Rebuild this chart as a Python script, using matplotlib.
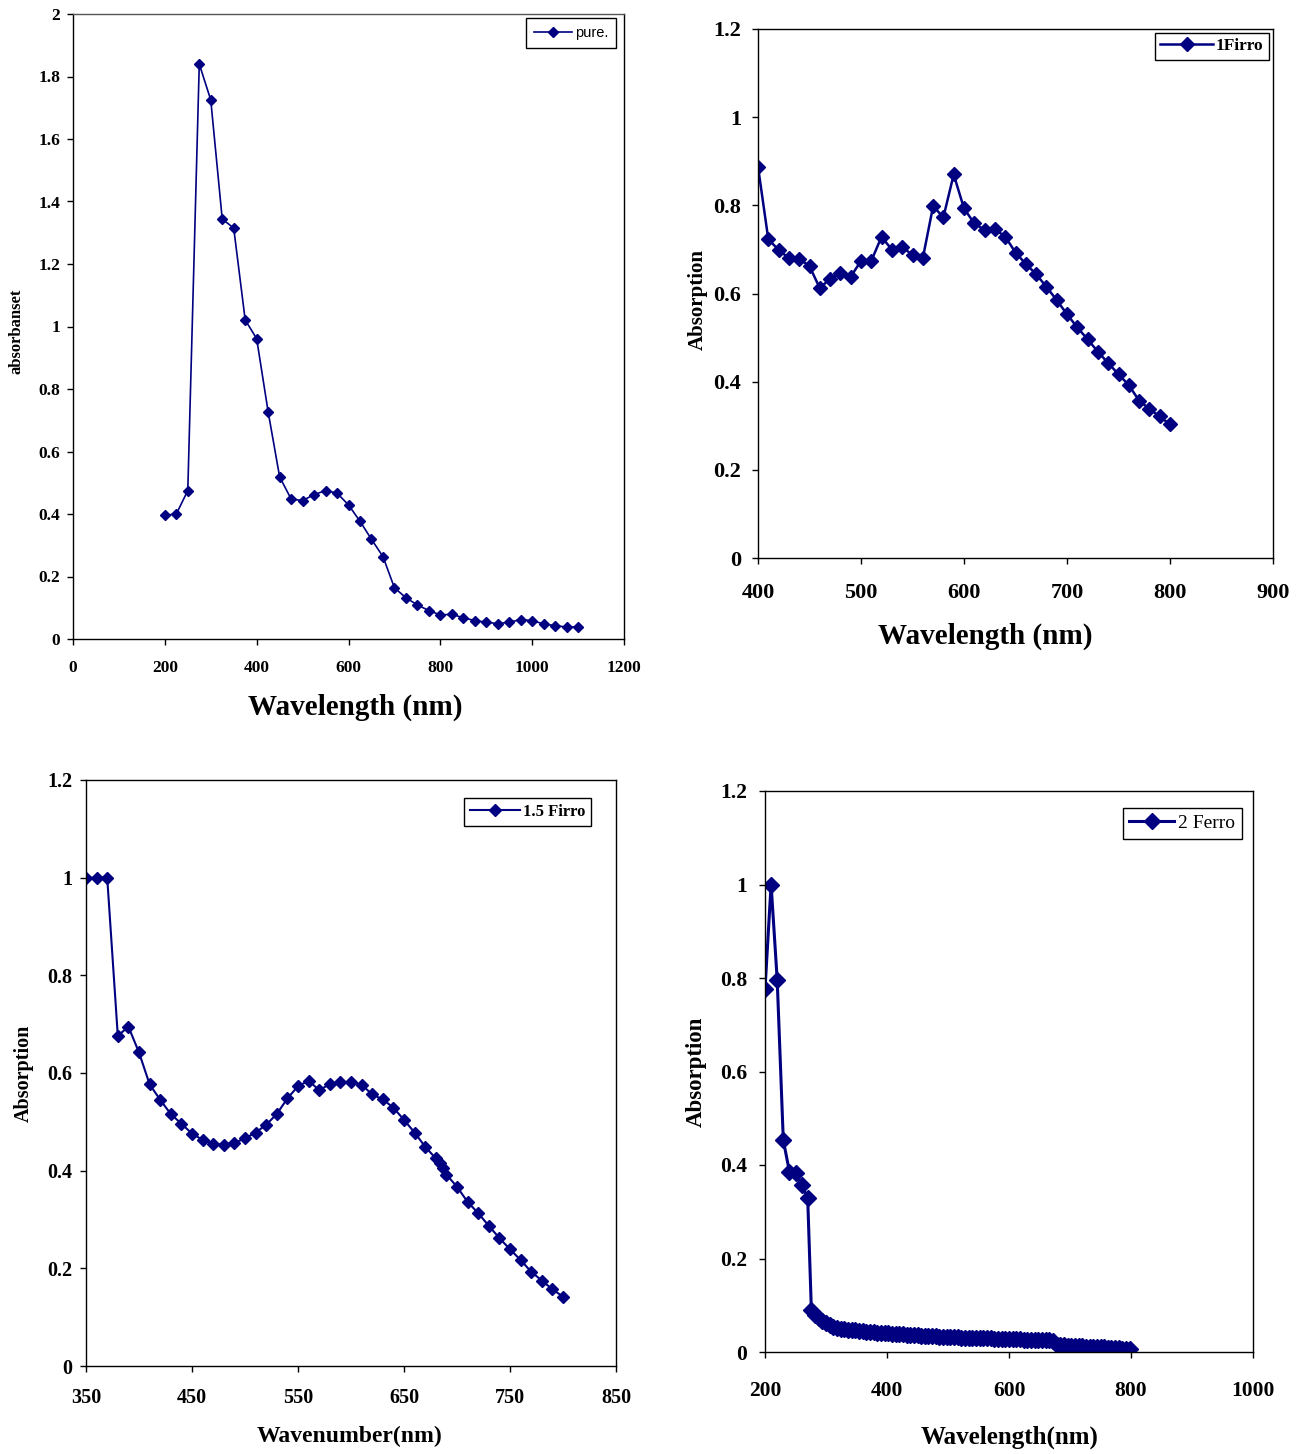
import numpy as np
import matplotlib
matplotlib.use("Agg")
import matplotlib.pyplot as plt
from matplotlib.ticker import FuncFormatter

plt.rcParams["font.family"] = "Liberation Serif"

NAVY = "#000080"

# panel 1 - pure
pure_x = [200, 225, 250, 275, 300, 325, 350, 375, 400, 425, 450, 475, 500, 525,
          550, 575, 600, 625, 650, 675, 700, 725, 750, 775, 800, 825, 850, 875,
          900, 925, 950, 975, 1000, 1025, 1050, 1075, 1100]
pure_y = [0.396, 0.40, 0.475, 1.84, 1.725, 1.344, 1.315, 1.021, 0.961, 0.727,
          0.519, 0.448, 0.443, 0.462, 0.475, 0.467, 0.429, 0.377, 0.319, 0.264,
          0.164, 0.132, 0.109, 0.091, 0.077, 0.079, 0.068, 0.059, 0.054, 0.049,
          0.054, 0.062, 0.059, 0.048, 0.043, 0.038, 0.039]

# panel 2 - 1Firro
f1_x = [390, 400, 410, 420, 430, 440, 450, 460, 470, 480, 490, 500, 510, 520,
        530, 540, 550, 560, 570, 580, 590, 600, 610, 620, 630, 640, 650, 660,
        670, 680, 690, 700, 710, 720, 730, 740, 750, 760, 770, 780, 790, 800]
f1_y = [0.96, 0.888, 0.723, 0.699, 0.680, 0.679, 0.662, 0.612, 0.634, 0.647,
        0.638, 0.674, 0.674, 0.729, 0.699, 0.706, 0.687, 0.680, 0.798, 0.773,
        0.870, 0.793, 0.759, 0.744, 0.746, 0.729, 0.693, 0.667, 0.644, 0.615,
        0.585, 0.553, 0.523, 0.496, 0.468, 0.442, 0.417, 0.392, 0.357, 0.338,
        0.321, 0.303]

# panel 3 - 1.5 Firro
f15_x = [350, 360, 370, 380, 390, 400, 410, 420, 430, 440, 450, 460, 470, 480,
         490, 500, 510, 520, 530, 540, 550, 560, 570, 580, 590, 600, 610, 620,
         630, 640, 650, 660, 670, 680, 684, 687, 690, 700, 710, 720, 730, 740,
         750, 760, 770, 780, 790, 800]
f15_y = [1.0, 1.0, 1.0, 0.676, 0.695, 0.642, 0.577, 0.545, 0.516, 0.496, 0.476,
         0.463, 0.455, 0.453, 0.457, 0.466, 0.478, 0.494, 0.516, 0.548, 0.573,
         0.584, 0.565, 0.577, 0.581, 0.582, 0.576, 0.556, 0.546, 0.529, 0.504,
         0.478, 0.449, 0.425, 0.415, 0.405, 0.392, 0.367, 0.336, 0.313, 0.287,
         0.262, 0.239, 0.217, 0.193, 0.175, 0.157, 0.142]

# panel 4 - 2 Ferro
f2_head_x = [200, 210, 220, 230, 240, 250, 260, 270]
f2_head_y = [0.776, 1.0, 0.796, 0.453, 0.386, 0.383, 0.357, 0.329]
f2_tail_x = list(range(276, 800, 6))
f2_tail_y = [0.090, 0.080, 0.072, 0.066, 0.061, 0.057, 0.054, 0.052, 0.050,
             0.049, 0.048, 0.047, 0.046, 0.045, 0.044, 0.043, 0.043, 0.042,
             0.041, 0.041, 0.040, 0.040, 0.039, 0.039, 0.038, 0.038, 0.037,
             0.037, 0.036, 0.036, 0.035, 0.035, 0.034, 0.034, 0.034, 0.033,
             0.033, 0.033, 0.032, 0.032, 0.032, 0.031, 0.031, 0.031, 0.030,
             0.030, 0.030, 0.029, 0.029, 0.029, 0.028, 0.028, 0.028, 0.028,
             0.027, 0.027, 0.027, 0.027, 0.026, 0.026, 0.026, 0.026, 0.025,
             0.025, 0.025, 0.025, 0.024,
             0.015, 0.014, 0.014, 0.013, 0.013, 0.012, 0.012, 0.012, 0.011,
             0.011, 0.011, 0.010, 0.010, 0.010, 0.009, 0.009, 0.008, 0.008,
             0.007, 0.007, 0.006]
f2_x = f2_head_x + f2_tail_x
f2_y = f2_head_y + f2_tail_y

W, H = 1308, 1454
fig = plt.figure(figsize=(W / 100, H / 100), dpi=100)


def box(l, r, t, b):
    return [l / W, (H - b) / H, (r - l) / W, (b - t) / H]


def style(ax, fs, xpad, ypad):
    for s in ax.spines.values():
        s.set_color("black")
        s.set_linewidth(1.0)
    ax.tick_params(direction="out", length=4, width=1, labelsize=fs)
    ax.tick_params(axis="x", pad=xpad)
    ax.tick_params(axis="y", pad=ypad)
    for lab in ax.get_xticklabels() + ax.get_yticklabels():
        lab.set_fontweight("bold")
    ax.yaxis.set_major_formatter(FuncFormatter(lambda v, p: f"{v:g}"))


def legend(ax, anchor, hl, bp, prop):
    ax.legend(loc="upper right", bbox_to_anchor=anchor, borderaxespad=0,
              fancybox=False, edgecolor="black", framealpha=1, handlelength=hl,
              handletextpad=0.2, borderpad=bp, prop=prop)


# ---- panel 1
ax1 = fig.add_axes(box(73, 624, 14, 639))
ax1.plot(pure_x, pure_y, color=NAVY, lw=1.2, marker="D", ms=5.5, label="pure.")
ax1.set_xlim(0, 1200)
ax1.set_ylim(0, 2)
ax1.set_xticks(np.arange(0, 1201, 200))
ax1.set_yticks(np.arange(0, 2.01, 0.2))
style(ax1, 12.5, 11, 5)
ax1.spines["top"].set_color("#555555")
ax1.set_xlabel("Wavelength (nm)", fontsize=21, fontweight="bold")
ax1.set_ylabel("absorbanset", fontsize=12, fontweight="bold")
ax1.xaxis.set_label_coords(0.512, -0.11)
ax1.xaxis.label.set_va("center")
ax1.yaxis.set_label_coords(-0.103, 0.493)
ax1.yaxis.label.set_va("center")
legend(ax1, (0.9855, 0.9936), 2.6, 0.55,
       {"family": "Liberation Sans", "size": 10.5})

# ---- panel 2
ax2 = fig.add_axes(box(758, 1273, 29, 558))
ax2.plot(f1_x, f1_y, color=NAVY, lw=1.8, marker="D", ms=7, label="1Firro")
ax2.set_xlim(400, 900)
ax2.set_ylim(0, 1.2)
ax2.set_xticks(np.arange(400, 901, 100))
ax2.set_yticks(np.arange(0, 1.21, 0.2))
style(ax2, 16, 14, 8)
ax2.set_xlabel("Wavelength (nm)", fontsize=21, fontweight="bold")
ax2.set_ylabel("Absorption", fontsize=15, fontweight="bold")
ax2.xaxis.set_label_coords(0.441, -0.149)
ax2.xaxis.label.set_va("center")
ax2.yaxis.set_label_coords(-0.117, 0.488)
ax2.yaxis.label.set_va("center")
legend(ax2, (0.992, 0.9924), 3.0, 0.3, {"weight": "bold", "size": 12.5})

# ---- panel 3
ax3 = fig.add_axes(box(86, 616, 780, 1366))
ax3.plot(f15_x, f15_y, color=NAVY, lw=1.5, marker="D", ms=6.6, label="1.5 Firro")
ax3.set_xlim(350, 850)
ax3.set_ylim(0, 1.2)
ax3.set_xticks(np.arange(350, 851, 100))
ax3.set_yticks(np.arange(0, 1.21, 0.2))
style(ax3, 14.5, 12, 6)
ax3.set_xlabel("Wavenumber(nm)", fontsize=17, fontweight="bold")
ax3.set_ylabel("Absorption", fontsize=14.5, fontweight="bold")
ax3.xaxis.set_label_coords(0.498, -0.121)
ax3.xaxis.label.set_va("center")
ax3.yaxis.set_label_coords(-0.117, 0.5)
ax3.yaxis.label.set_va("center")
legend(ax3, (0.953, 0.969), 3.0, 0.35, {"weight": "bold", "size": 12})

# ---- panel 4
ax4 = fig.add_axes(box(765, 1253, 791, 1352))
ax4.plot(f2_x, f2_y, color=NAVY, lw=2.2, marker="D", ms=8, label="2 Ferro")
ax4.set_xlim(200, 1000)
ax4.set_ylim(0, 1.2)
ax4.set_xticks(np.arange(200, 1001, 200))
ax4.set_yticks(np.arange(0, 1.21, 0.2))
style(ax4, 15.5, 17, 9)
ax4.set_xlabel("Wavelength(nm)", fontsize=18, fontweight="bold")
ax4.set_ylabel("Absorption", fontsize=16.5, fontweight="bold")
ax4.xaxis.set_label_coords(0.502, -0.152)
ax4.xaxis.label.set_va("center")
ax4.yaxis.set_label_coords(-0.141, 0.499)
ax4.yaxis.label.set_va("center")
legend(ax4, (0.977, 0.970), 2.3, 0.35, {"size": 14})

fig.savefig("out.png", dpi=100)
